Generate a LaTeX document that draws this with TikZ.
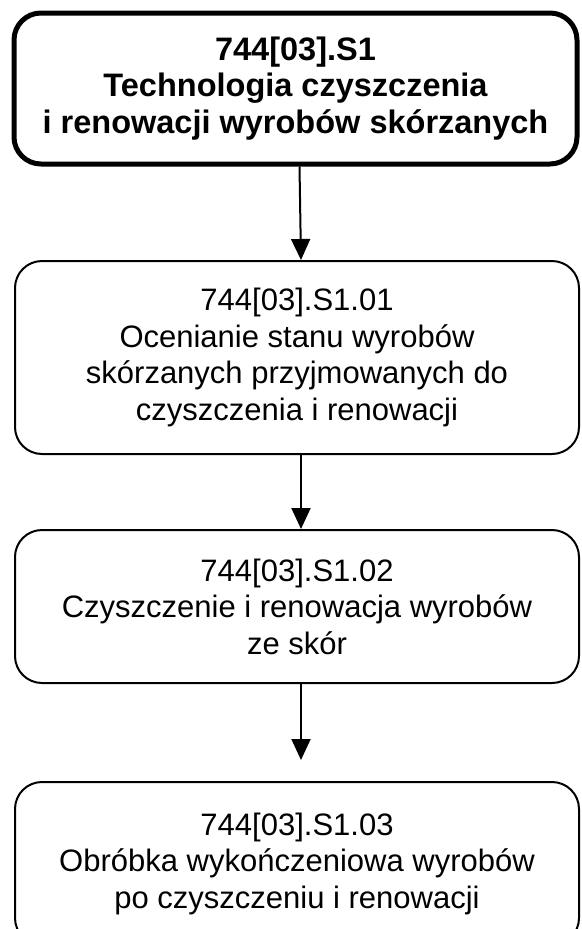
\documentclass[tikz,border=0pt]{standalone}
\usepackage{fontspec}
\setmainfont{Liberation Sans}
\usetikzlibrary{arrows.meta}
\begin{document}
\begin{tikzpicture}[x=1pt,y=-1pt,
  box/.style={draw=black,line width=2pt,rounded corners=27pt,minimum width=564pt,align=center,inner sep=0pt,
    font=\fontsize{31}{36.5}\selectfont},
  topbox/.style={box,line width=5pt,font=\fontsize{32.5}{36.5}\selectfont\bfseries},
  arr/.style={line width=2pt,-{Triangle[length=21pt,width=19pt]}}]
\useasboundingbox (0,0) rectangle (581,929);
\node[topbox,minimum width=563pt,minimum height=151pt] (s1) at (295.5,88.5) {744[03].S1\\Technologia czyszczenia\\i renowacji wyrobów skórzanych};
\node[box,minimum height=193pt] (s101) at (297,357.5) {744[03].S1.01\\Ocenianie stanu wyrobów\\skórzanych przyjmowanych do\\czyszczenia i renowacji};
\node[box,minimum height=153pt] (s102) at (297,606.5) {744[03].S1.02\\Czyszczenie i renowacja wyrobów\\ze skór};
\node[box,minimum height=163pt] (s103) at (297,863.5) {744[03].S1.03\\Obróbka wykończeniowa wyrobów\\po czyszczeniu i renowacji};
\draw[arr] ([xshift=4pt]s1.south) -- ([xshift=4pt]s101.north);
\draw[arr] ([xshift=4pt]s101.south) -- ([xshift=4pt]s102.north);
\draw[arr,shorten >=21pt] ([xshift=4pt]s102.south) -- ([xshift=4pt]s103.north);
\end{tikzpicture}
\end{document}
